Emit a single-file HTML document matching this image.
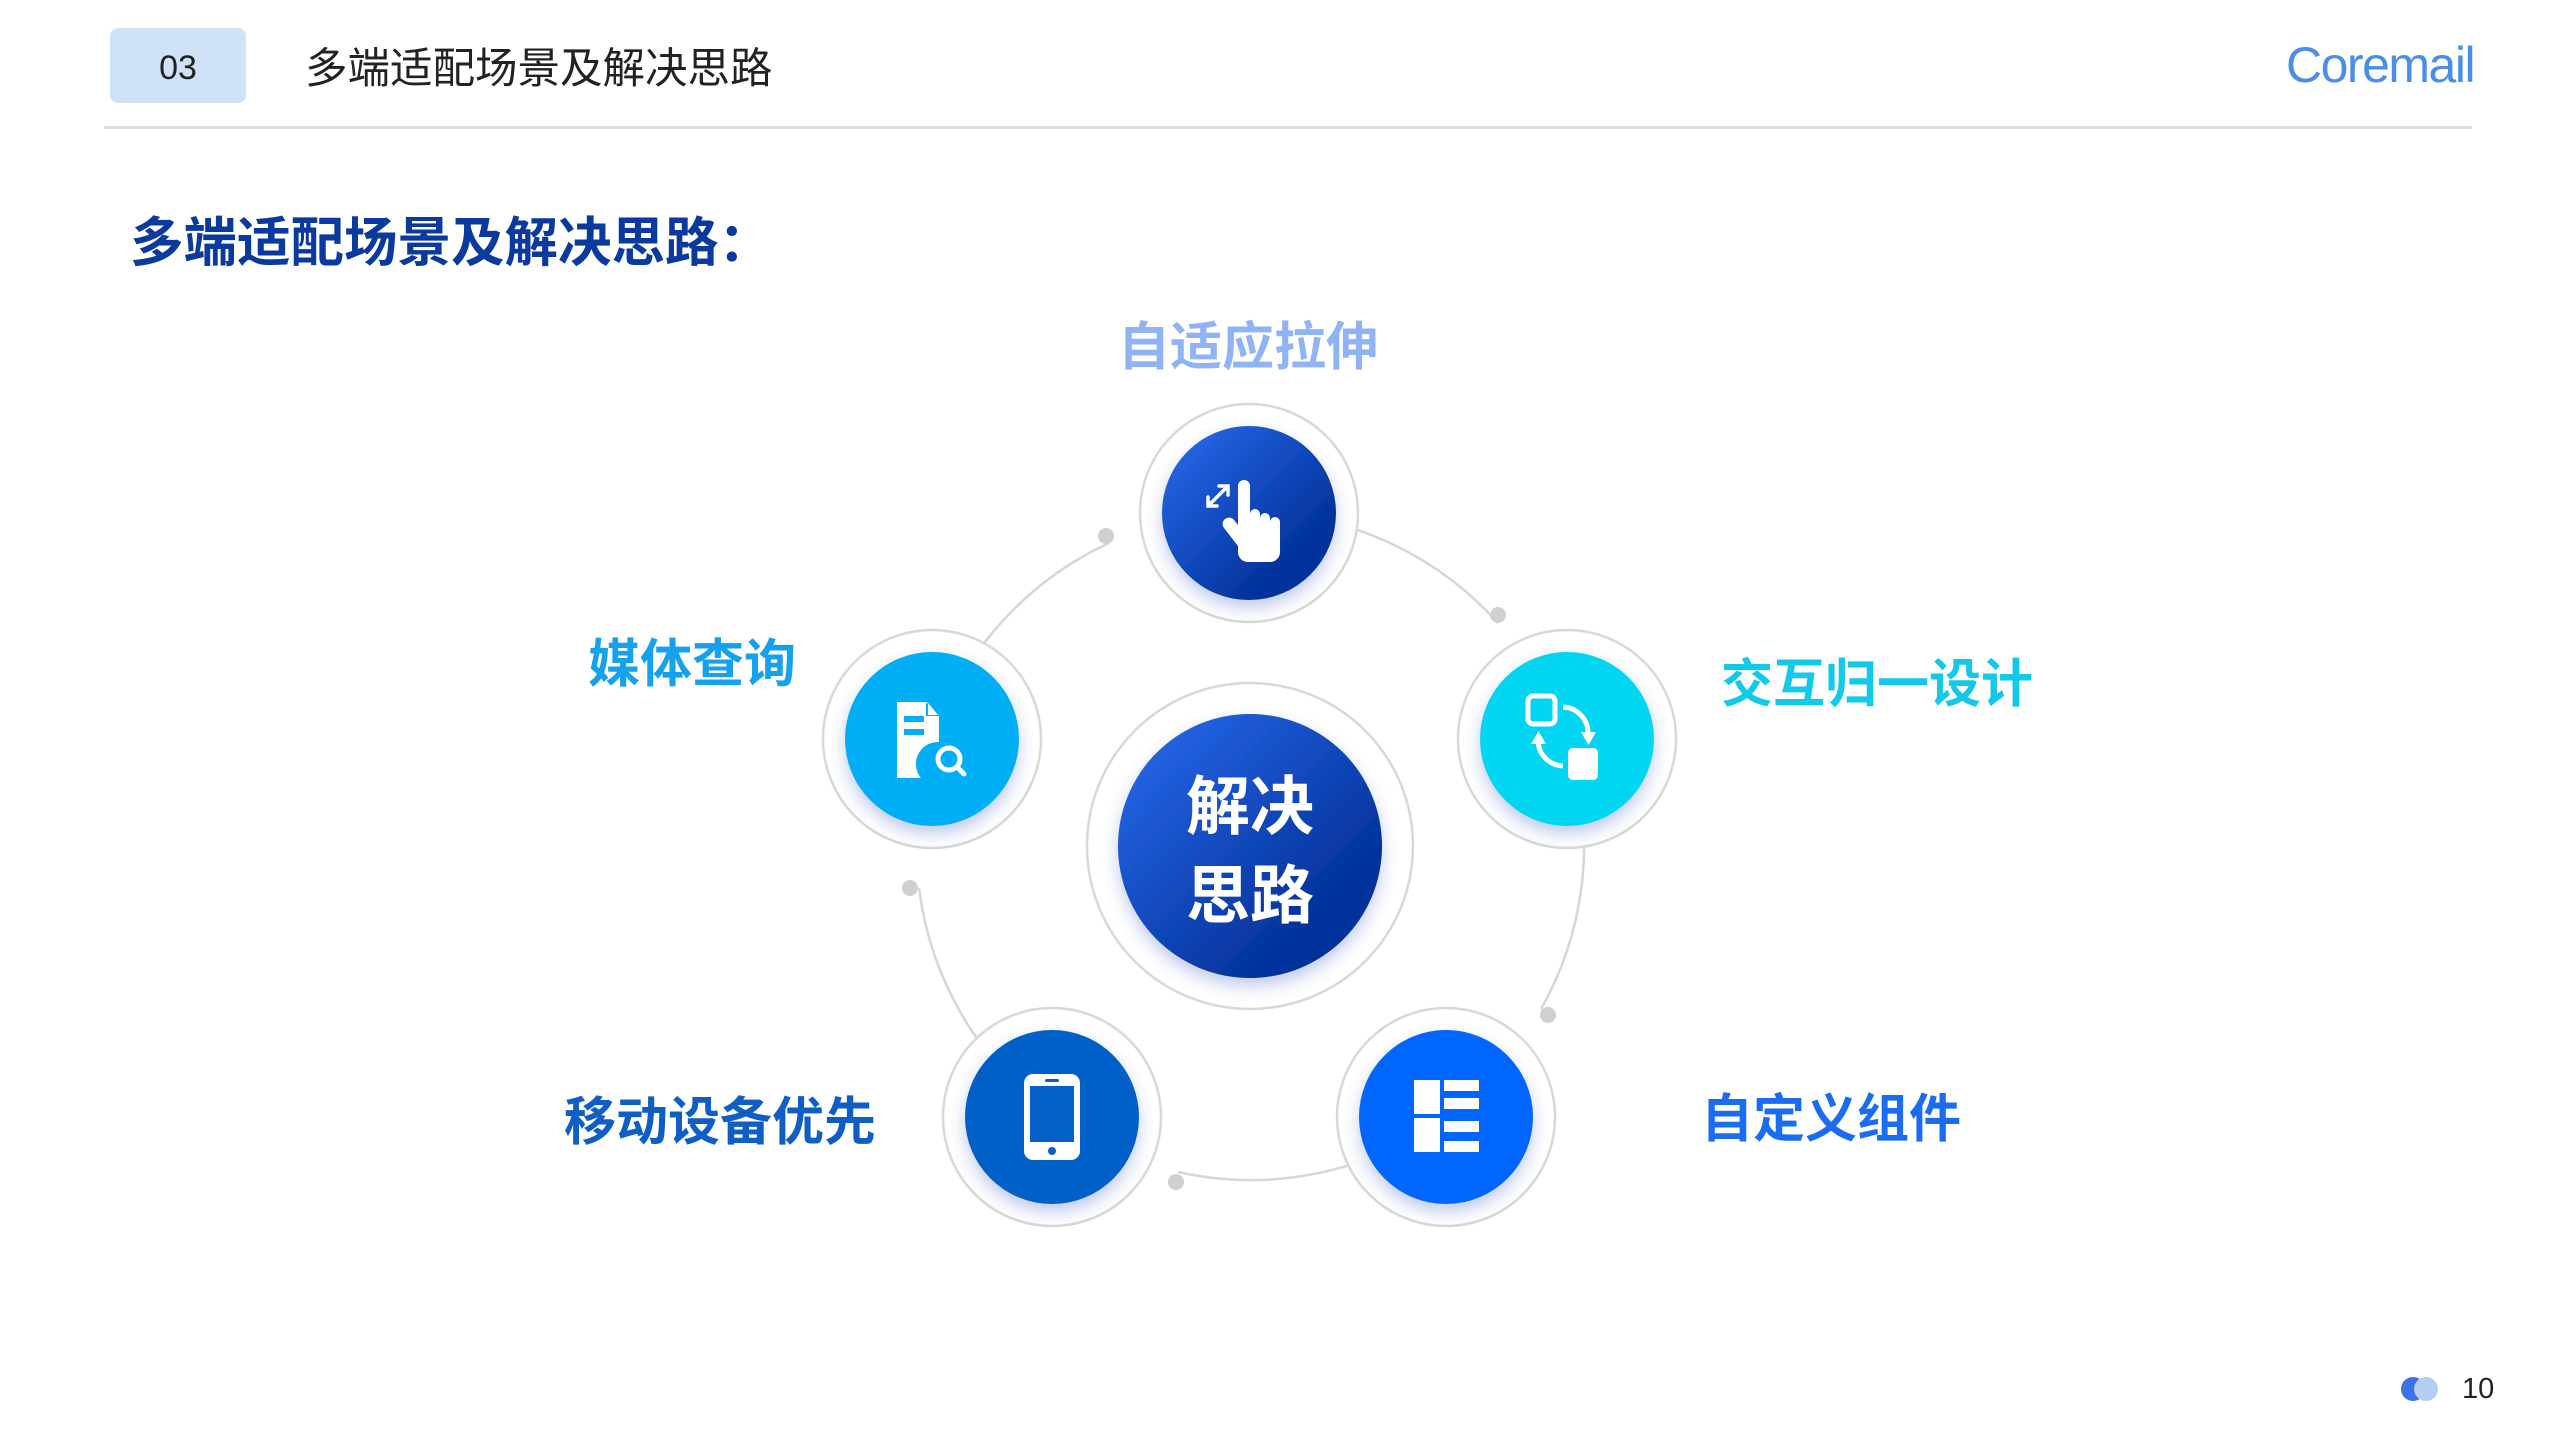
<!DOCTYPE html>
<html><head><meta charset="utf-8"><style>
html,body{margin:0;padding:0;background:#fff;}
body{width:2560px;height:1440px;position:relative;overflow:hidden;font-family:"Liberation Sans","Noto Sans CJK SC",sans-serif;}
.abs{position:absolute;}
</style></head><body>
<div class="abs" style="left:110px;top:28px;width:136px;height:75px;background:#d0e2f8;border-radius:8px;"></div>
<div class="abs" style="left:110px;top:31px;width:136px;height:75px;line-height:75px;text-align:center;font-size:34px;color:#222;">03</div>
<div class="abs" style="left:305px;top:45px;font-size:42.5px;line-height:50px;color:#222;white-space:nowrap;">多端适配场景及解决思路</div>
<div class="abs" style="left:2286px;top:34px;font-size:50px;line-height:62px;color:#4a8ee8;letter-spacing:-1.5px;">Coremail</div>
<div class="abs" style="left:104px;top:126px;width:2368px;height:3px;background:#dedede;"></div>
<div class="abs" style="left:130px;top:211px;font-size:53.5px;line-height:66px;font-weight:bold;color:#0a3a9e;white-space:nowrap;">多端适配场景及解决思路：</div>

<svg class="abs" style="left:0;top:0" width="2560" height="1440" viewBox="0 0 2560 1440">
<defs>
<linearGradient id="g1" x1="0" y1="0" x2="1" y2="1"><stop offset="0" stop-color="#2a6cf0"/><stop offset="0.75" stop-color="#03339c"/><stop offset="1" stop-color="#03309a"/></linearGradient>
<filter id="sh" x="-30%" y="-30%" width="160%" height="160%"><feDropShadow dx="0" dy="8" stdDeviation="8" flood-color="#3050c0" flood-opacity="0.3"/></filter>
</defs>
<g transform="translate(-5,-4)">
<g fill="none" stroke="#d6d6d6" stroke-width="2.5">
<path d="M1255 516 A334 334 0 0 1 1503 627"/>
<path d="M1572 743 A334 334 0 0 1 1546 1013"/>
<path d="M1451 1121 A334 334 0 0 1 1183 1176"/>
<path d="M1058 1120 A334 334 0 0 1 924 892"/>
<path d="M938 743 A334 334 0 0 1 1114 547"/>
</g>
<g fill="#d0d0d0">
<circle cx="1503" cy="619" r="8"/><circle cx="1553" cy="1019" r="8"/><circle cx="1181" cy="1186" r="8"/><circle cx="915" cy="892" r="8"/><circle cx="1111" cy="540" r="8"/>
</g>
<g fill="#fff" stroke="#d8d8d8" stroke-width="2.5">
<circle cx="1255" cy="850" r="163"/>
<circle cx="1254" cy="517" r="109"/>
<circle cx="1572" cy="743" r="109"/>
<circle cx="937" cy="743" r="109"/>
<circle cx="1057" cy="1121" r="109"/>
<circle cx="1451" cy="1121" r="109"/>
</g>
<g filter="url(#sh)">
<circle cx="1255" cy="850" r="132" fill="url(#g1)"/>
<circle cx="1254" cy="517" r="87" fill="url(#g1)"/>
<circle cx="1572" cy="743" r="87" fill="#05d6f1"/>
<circle cx="937" cy="743" r="87" fill="#05aef6"/>
<circle cx="1057" cy="1121" r="87" fill="#0560c8"/>
<circle cx="1451" cy="1121" r="87" fill="#0066ff"/>
</g>
<g fill="#fff">
<path d="M1243 490 a6 6 0 0 1 12 0 v28 a5 5 0 0 1 10 0 v4 a5 5 0 0 1 10 0 v4 a5 5 0 0 1 10 0 v30 a10 10 0 0 1 -10 10 h-22 a10 10 0 0 1 -10 -10 v-6 l-14 -18 a6 6 0 0 1 10 -8 l4 5 z"/>
</g>
<g stroke="#fff" stroke-width="3.5" fill="none" stroke-linecap="round">
<path d="M1213 510 L1232 491 M1224 490 h9 v9 M1213 501 v9 h9"/>
</g>
<g stroke="#fff" stroke-width="5" fill="none">
<rect x="1533" y="700" width="27" height="28" rx="5"/>
<path d="M1568 711 a26 26 0 0 1 25 26"/>
<path d="M1543 744 a26 26 0 0 0 25 26"/>
</g>
<g fill="#fff">
<rect x="1573" y="752" width="30" height="32" rx="5"/>
<path d="M1586 736 l15 0 l-7.5 13 z"/>
<path d="M1536 748 l15 0 l-7.5 -13 z"/>
</g>
<g fill="#fff">
<path d="M902 706 h30 l12 14 v26 a22 22 0 0 0 -18 36 h-24 z"/>
</g>
<g fill="#05aef6"><rect x="909" y="720" width="20" height="6"/><rect x="909" y="733" width="20" height="6"/><path d="M931 706 v14 h13 z"/></g>
<path d="M933 707 l10 12 h-10 z" fill="#fff"/>
<g stroke="#fff" stroke-width="5" fill="none"><circle cx="954" cy="763" r="11"/><path d="M962 771 l7 7" stroke-linecap="round"/></g>
<rect x="1029" y="1078" width="56" height="86" rx="9" fill="#fff"/>
<rect x="1035" y="1090" width="44" height="56" fill="#0560c8"/>
<rect x="1050" y="1083" width="14" height="3" rx="1.5" fill="#0560c8"/>
<circle cx="1057" cy="1155" r="4" fill="#0560c8"/>
<g fill="#fff">
<rect x="1419" y="1084" width="26" height="34"/><rect x="1419" y="1122" width="26" height="34"/>
<rect x="1449" y="1084" width="35" height="11"/><rect x="1449" y="1102" width="35" height="11"/>
<rect x="1449" y="1125" width="35" height="11"/><rect x="1449" y="1145" width="35" height="11"/>
</g>
<g font-family="Liberation Sans, Noto Sans CJK SC, sans-serif" font-weight="bold" text-anchor="middle">
<text x="1255" y="833" font-size="64" fill="#fff">解决</text>
<text x="1255" y="922" font-size="64" fill="#fff">思路</text>
<text x="1253" y="369" font-size="52" fill="#8fb3f5">自适应拉伸</text>
<text x="697" y="686" font-size="52" fill="#14a2ee">媒体查询</text>
<text x="1882" y="706" font-size="52" fill="#12c9ea">交互归一设计</text>
<text x="725" y="1144" font-size="52" fill="#0f5ec4">移动设备优先</text>
<text x="1836" y="1141" font-size="52" fill="#1a6cf0">自定义组件</text>
</g>
</g>
<circle cx="2413" cy="1389" r="12" fill="#3b72e8"/>
<circle cx="2426" cy="1389" r="12" fill="#b3cdf3"/>
<text x="2462" y="1398" font-size="29" fill="#222" font-family="Liberation Sans, sans-serif">10</text>
</svg>
</body></html>
